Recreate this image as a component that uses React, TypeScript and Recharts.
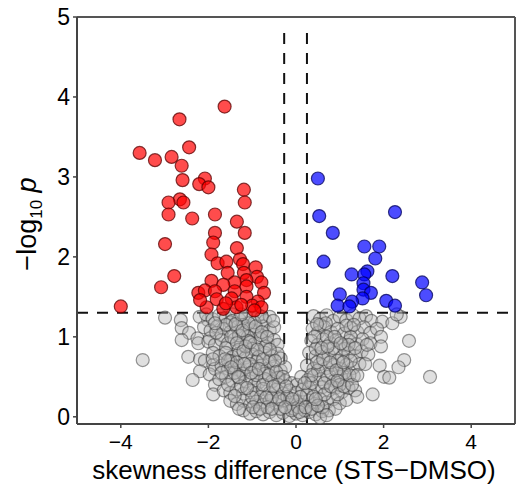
import { ScatterChart, Scatter, XAxis, YAxis, ReferenceLine } from 'recharts';

// [skewness difference, -log10 p]
const greyPoints: [number, number][] = [
  [-2.99, 1.24], [-2.63, 1.21], [-2.01, 1.21], [-2.61, 1.11], [-2.44, 1.05], [-2.61, 0.96], [-2.25, 0.98],
  [-2.23, 0.92], [-1.97, 0.98], [-3.5, 0.71], [-2.46, 0.75], [-2.19, 0.72], [-2.08, 0.7], [-1.89, 0.65],
  [-2.19, 0.57], [-1.97, 0.53], [-2.36, 0.46], [-1.85, 0.4], [-1.89, 0.28],
  [-2.2, 1.25], [-2.05, 1.28], [-1.9, 1.22], [-1.75, 1.27], [-1.6, 1.24], [-1.45, 1.28], [-1.3, 1.22],
  [-1.15, 1.26], [-1.0, 1.23], [-0.85, 1.27], [-0.7, 1.2], [-0.6, 1.25], [-1.5, 1.18], [-1.2, 1.15],
  [-2.1, 1.12], [-1.95, 1.08], [-1.8, 1.13], [-1.65, 1.1], [-1.5, 1.06], [-1.35, 1.12], [-1.2, 1.05],
  [-1.05, 1.1], [-0.9, 1.07], [-0.75, 1.13], [-0.6, 1.08], [-0.5, 1.12], [-1.7, 1.02], [-1.1, 1.0],
  [-2.0, 0.94], [-1.85, 0.9], [-1.7, 0.96], [-1.55, 0.92], [-1.4, 0.97], [-1.25, 0.9], [-1.1, 0.95],
  [-0.95, 0.91], [-0.8, 0.97], [-0.65, 0.92], [-0.5, 0.96], [-0.42, 0.9], [-1.6, 0.86], [-1.0, 0.85], [-1.3, 0.84],
  [-1.9, 0.8], [-1.75, 0.76], [-1.6, 0.8], [-1.45, 0.75], [-1.3, 0.79], [-1.15, 0.74], [-1.0, 0.78],
  [-0.85, 0.75], [-0.7, 0.8], [-0.55, 0.76], [-0.42, 0.79], [-0.35, 0.73], [-1.5, 0.7], [-0.9, 0.69],
  [-1.85, 0.6], [-1.7, 0.64], [-1.55, 0.6], [-1.4, 0.63], [-1.25, 0.58], [-1.1, 0.62], [-0.95, 0.59],
  [-0.8, 0.64], [-0.65, 0.6], [-0.5, 0.63], [-0.35, 0.58], [-0.25, 0.62], [-1.2, 0.54], [-0.7, 0.54],
  [-1.75, 0.47], [-1.6, 0.5], [-1.45, 0.45], [-1.3, 0.49], [-1.15, 0.44], [-1.0, 0.48], [-0.85, 0.43],
  [-0.7, 0.47], [-0.55, 0.44], [-0.4, 0.49], [-0.25, 0.45], [-0.1, 0.42], [0.02, 0.4], [-0.95, 0.4],
  [-1.65, 0.33], [-1.5, 0.3], [-1.35, 0.34], [-1.2, 0.29], [-1.05, 0.33], [-0.9, 0.3], [-0.75, 0.35],
  [-0.6, 0.3], [-0.45, 0.34], [-0.3, 0.29], [-0.15, 0.33], [0.0, 0.3], [0.15, 0.34], [-0.8, 0.25],
  [-1.5, 0.2], [-1.35, 0.16], [-1.2, 0.2], [-1.05, 0.15], [-0.9, 0.19], [-0.75, 0.15], [-0.6, 0.2],
  [-0.45, 0.16], [-0.3, 0.2], [-0.15, 0.15], [0.0, 0.19], [0.15, 0.15], [0.3, 0.2], [0.42, 0.16],
  [-1.2, 0.08], [-1.05, 0.04], [-0.9, 0.07], [-0.75, 0.03], [-0.6, 0.06], [-0.45, 0.02], [-0.3, 0.05],
  [-0.15, 0.01], [0.0, 0.04], [0.15, 0.02], [0.3, 0.06], [0.45, 0.03], [0.6, 0.07], [-0.05, 0.1],
  [0.4, 1.26], [0.55, 1.22], [0.7, 1.27], [0.85, 1.2], [1.0, 1.25], [1.15, 1.21], [1.3, 1.27], [1.45, 1.23],
  [1.6, 1.26], [1.72, 1.2], [2.39, 1.25], [1.97, 1.19], [2.2, 1.17], [2.3, 1.28],
  [0.38, 1.1], [0.5, 1.05], [0.65, 1.12], [0.8, 1.06], [0.95, 1.1], [1.1, 1.04], [1.25, 1.11], [1.4, 1.06],
  [1.55, 1.12], [1.7, 1.05], [1.85, 1.1],
  [0.35, 0.95], [0.5, 0.9], [0.62, 0.97], [0.78, 0.92], [0.92, 0.96], [1.08, 0.9], [1.22, 0.95], [1.38, 0.91],
  [1.52, 0.97], [1.94, 1.0], [2.58, 0.95], [1.7, 0.92],
  [0.3, 0.8], [0.45, 0.76], [0.6, 0.81], [0.75, 0.77], [0.9, 0.8], [1.05, 0.75], [1.2, 0.8], [1.35, 0.76],
  [1.5, 0.82], [1.94, 0.88], [1.65, 0.78],
  [0.25, 0.64], [0.4, 0.6], [0.55, 0.66], [0.7, 0.61], [0.85, 0.65], [1.0, 0.6], [1.15, 0.65], [1.3, 0.61],
  [1.45, 0.66], [1.91, 0.64], [2.47, 0.71], [2.34, 0.62],
  [0.12, 0.5], [0.27, 0.46], [0.42, 0.51], [0.57, 0.47], [0.72, 0.5], [0.87, 0.45], [1.02, 0.5], [1.17, 0.46],
  [1.32, 0.51], [2.01, 0.5], [2.13, 0.49], [3.06, 0.5],
  [0.3, 0.36], [0.45, 0.32], [0.6, 0.37], [0.75, 0.33], [0.9, 0.36], [1.05, 0.31], [1.2, 0.36], [1.35, 0.33], [1.75, 0.28],
  [0.55, 0.22], [0.7, 0.18], [0.85, 0.22], [1.0, 0.17], [1.15, 0.21], [1.4, 0.25],
  [0.75, 0.08], [0.9, 0.1], [0.55, -0.01],
  [-1.45, 1.2], [-1.3, 1.02], [-1.15, 0.88], [-0.95, 1.18], [-0.8, 1.02], [-0.7, 0.88], [-1.05, 0.66],
  [-0.9, 0.52], [-0.6, 0.7], [-0.75, 0.4], [-0.55, 0.24], [-0.4, 0.4], [-0.2, 0.25], [-0.1, 0.08],
  [0.05, 0.12], [0.2, 0.08], [0.25, 0.28], [0.1, 0.25], [-0.35, 0.1], [-0.65, 0.12], [-1.0, 0.24],
  [-1.25, 0.38], [-1.4, 0.55], [-1.55, 0.7], [-1.6, 1.15], [-1.35, 0.68], [0.5, 0.58], [0.65, 0.42],
  [0.8, 0.55], [0.95, 0.7], [1.1, 0.85], [1.25, 1.0], [0.7, 1.0], [0.85, 0.86], [1.0, 0.4], [0.4, 0.25],
  [0.6, 0.12], [0.35, 0.42], [1.1, 0.55], [1.25, 0.7], [0.55, 1.15], [0.45, 0.85],
  [-1.38, 1.16], [-1.22, 1.08], [-1.08, 1.17], [-0.92, 1.13], [-0.78, 1.06], [-0.66, 1.0], [-1.48, 1.0],
  [-1.35, 0.92], [-1.2, 0.82], [-1.05, 0.93], [-0.88, 0.84], [-0.75, 0.72], [-0.6, 0.84], [-0.48, 0.7],
  [-1.62, 0.72], [-1.48, 0.62], [-1.32, 0.5], [-1.18, 0.66], [-1.02, 0.55], [-0.85, 0.6], [-0.62, 0.52],
  [-0.45, 0.56], [-0.3, 0.5], [-1.55, 0.4], [-1.4, 0.26], [-1.12, 0.36], [-0.98, 0.12], [-0.82, 0.1],
  [-0.68, 0.24], [-0.52, 0.38], [-0.38, 0.22], [-0.22, 0.38], [-0.08, 0.22], [0.08, 0.06], [0.22, 0.12],
  [-1.3, 0.1], [-0.55, 0.1], [-0.25, 0.12], [0.36, 0.1], [0.5, 0.14], [0.65, 0.28], [0.8, 0.38],
  [0.95, 0.28], [1.1, 0.38], [1.22, 0.52], [0.35, 0.52], [0.48, 0.68], [0.62, 0.72], [0.78, 0.68],
  [0.92, 0.58], [1.08, 0.68], [1.2, 0.9], [1.35, 0.86], [0.42, 1.0], [0.58, 0.86], [0.72, 0.88],
  [0.88, 1.0], [1.02, 0.92], [1.15, 1.14], [1.32, 1.15], [0.68, 1.17], [0.48, 1.16], [0.95, 0.45],
  [0.7, 0.02], [0.45, 0.22], [0.2, 0.42], [1.28, 0.4], [1.4, 0.52], [1.58, 0.66], [1.62, 0.9],
  [-1.82, 1.05], [-1.9, 0.72], [-1.7, 0.55], [-1.85, 1.17], [-1.25, 1.28], [-0.78, 1.25], [-0.52, 1.2],
];

const redPoints: [number, number][] = [
  [-1.63, 3.88], [-2.66, 3.72], [-2.44, 3.37], [-3.57, 3.3], [-3.22, 3.21], [-2.84, 3.25], [-2.61, 3.14],
  [-2.59, 2.96], [-2.08, 2.98], [-2.21, 2.91], [-2.0, 2.87], [-1.19, 2.84], [-2.65, 2.72], [-2.57, 2.68],
  [-2.91, 2.68], [-1.17, 2.68], [-2.91, 2.53], [-1.85, 2.53], [-2.37, 2.48], [-1.35, 2.44], [-1.85, 2.3],
  [-1.17, 2.3], [-1.89, 2.18], [-2.99, 2.16], [-1.35, 2.11], [-1.93, 2.03], [-2.78, 1.76], [-3.08, 1.62],
  [-4.0, 1.38], [-1.79, 1.92], [-1.59, 1.94], [-1.28, 1.97], [-1.21, 1.91], [-0.92, 1.87], [-1.56, 1.8],
  [-1.19, 1.8], [-0.89, 1.75], [-1.13, 1.71], [-0.79, 1.68], [-1.93, 1.7], [-1.4, 1.68], [-1.66, 1.65],
  [-1.13, 1.63], [-2.23, 1.55], [-2.08, 1.58], [-1.85, 1.57], [-1.4, 1.57], [-0.73, 1.55], [-1.81, 1.47],
  [-1.47, 1.48], [-1.13, 1.5], [-0.87, 1.44], [-2.04, 1.37], [-1.66, 1.35], [-1.36, 1.37], [-1.0, 1.39],
  [-0.79, 1.37], [-2.19, 1.46], [-1.25, 1.4], [-1.6, 1.42], [-0.95, 1.33],
];

const bluePoints: [number, number][] = [
  [0.5, 2.98], [0.53, 2.51], [2.26, 2.56], [0.84, 2.3], [1.56, 2.13], [1.9, 2.13], [1.81, 1.98], [0.63, 1.94],
  [1.27, 1.78], [1.63, 1.82], [1.56, 1.78], [2.2, 1.76], [2.88, 1.68], [1.54, 1.67], [1.54, 1.59], [1.71, 1.55],
  [1.0, 1.53], [2.97, 1.52], [1.52, 1.48], [1.28, 1.44], [2.06, 1.45], [0.95, 1.39], [1.22, 1.38], [2.26, 1.39],
];

const xTicks = [-4, -2, 0, 2, 4];
const yTicks = [0, 1, 2, 3, 4, 5];
const pThreshold = 1.3;
const leftCut = -0.27;
const rightCut = 0.25;

const toRows = (pts: [number, number][]) => pts.map(([x, y]) => ({ x, y }));

const font = 'Liberation Sans, Arial, Helvetica, sans-serif';

const dot = (fill: string, fillOpacity: number, stroke: string, strokeOpacity: number) => (props: any) => (
  <circle
    cx={props.cx}
    cy={props.cy}
    r={6.5}
    fill={fill}
    fillOpacity={fillOpacity}
    stroke={stroke}
    strokeOpacity={strokeOpacity}
    strokeWidth={1.2}
  />
);

const minus = (v: number) => String(v).replace('-', '\u2212');

const App = () => {
  return (
    <div style={{ position: 'absolute', left: 0, top: 0 }}>
      <ScatterChart width={517} height={492} margin={{ top: 17, right: 2, bottom: 0, left: 0 }}>
        <XAxis
          type="number"
          dataKey="x"
          domain={[-5, 5]}
          allowDataOverflow
          ticks={xTicks}
          tickFormatter={minus}
          height={68}
          tick={{ fontSize: 21, fill: '#000', fontFamily: font }}
          tickSize={4}
          tickMargin={6}
          axisLine={{ stroke: '#444', strokeWidth: 2 }}
          tickLine={{ stroke: '#444', strokeWidth: 1.5 }}
          label={{
            content: () => (
              <text x={294} y={479} textAnchor="middle" fontSize={26} fontFamily={font} fill="#000">
                skewness difference (STS{'\u2212'}DMSO)
              </text>
            ),
          }}
        />
        <YAxis
          type="number"
          dataKey="y"
          domain={[-0.09, 5]}
          allowDataOverflow
          ticks={yTicks}
          width={77}
          tick={{ fontSize: 23, fill: '#000', fontFamily: font }}
          tickSize={4}
          tickMargin={3}
          axisLine={{ stroke: '#444', strokeWidth: 2 }}
          tickLine={{ stroke: '#444', strokeWidth: 1.5 }}
          label={{
            content: () => (
              <text
                x={36}
                y={224}
                transform="rotate(-90, 36, 224)"
                textAnchor="middle"
                fontSize={27}
                fontFamily={font}
                fill="#000"
              >
                {'\u2212'}log
                <tspan fontSize={17} dy={6}>10</tspan>
                <tspan dy={-6}> </tspan>
                <tspan fontStyle="italic">p</tspan>
              </text>
            ),
          }}
        />
        <Scatter data={toRows(greyPoints)} isAnimationActive={false} shape={dot('#b4b4b4', 0.42, '#333', 0.5)} />
        <Scatter data={toRows(redPoints)} isAnimationActive={false} shape={dot('#ff0000', 0.7, '#5a0000', 0.75)} />
        <Scatter data={toRows(bluePoints)} isAnimationActive={false} shape={dot('#0000ff', 0.7, '#00005a', 0.75)} />
        <ReferenceLine y={pThreshold} stroke="#111" strokeWidth={2} strokeDasharray="11 9" />
        <ReferenceLine
          segment={[{ x: leftCut, y: -0.09 }, { x: leftCut, y: 4.84 }]}
          stroke="#111"
          strokeWidth={2}
          strokeDasharray="11 9"
        />
        <ReferenceLine
          segment={[{ x: rightCut, y: -0.09 }, { x: rightCut, y: 4.84 }]}
          stroke="#111"
          strokeWidth={2}
          strokeDasharray="11 9"
        />
        <ReferenceLine y={5} stroke="#555" strokeWidth={2} />
        <ReferenceLine x={5} stroke="#555" strokeWidth={2} />
      </ScatterChart>
    </div>
  );
};

export default App;
